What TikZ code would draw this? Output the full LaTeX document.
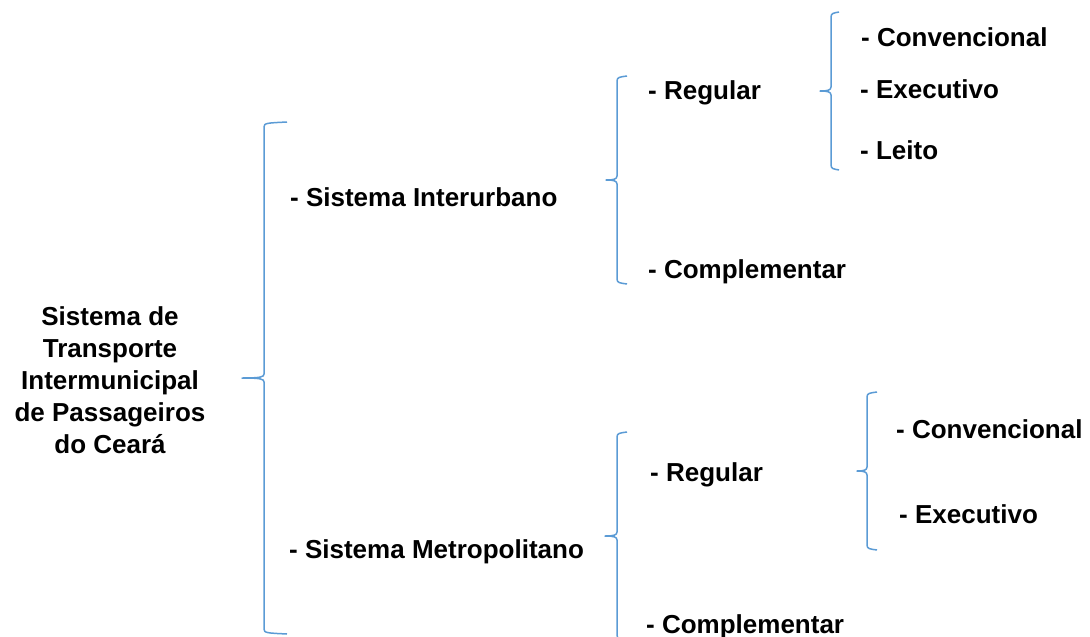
\documentclass[tikz,border=0pt]{standalone}
\usepackage{fontspec}
\setmainfont{Liberation Sans}
\definecolor{chaveazul}{RGB}{91,155,213}
% chave: x do corpo, topo, base, largura da ponta, largura do bico
\newcommand{\chave}[5]{%
  \pgfmathsetmacro\chavem{(#2+#3)/2}%
  \draw[chave] (#1+#4,#2-1) .. controls (#1+3,#2) and (#1,#2) .. (#1,#2+4)
    -- (#1,\chavem-4) .. controls (#1,\chavem-1) and (#1-3,\chavem) .. (#1-#5,\chavem)
    .. controls (#1-3,\chavem) and (#1,\chavem+1) .. (#1,\chavem+4)
    -- (#1,#3-4) .. controls (#1,#3) and (#1+3,#3) .. (#1+#4,#3+1);%
}
\begin{document}
\begin{tikzpicture}[
                    x=1pt,
                    y=-1pt,
                    chave/.style={draw=chaveazul, line width=1.5pt, line join=round},
                    txt/.style={font=\bfseries\fontsize{26}{32}\selectfont, inner sep=0pt, anchor=base west}
                ]
                \useasboundingbox (0,0) rectangle (1090,637);

                \node[txt, anchor=center, align=center] (sist) at (110,380)
                    {Sistema de\\Transporte\\Intermunicipal\\de Passageiros\\do Ceará};

                \node[txt] (inter) at (290,206.5) {- Sistema Interurbano};
                \node[txt] (metro) at (289,558) {- Sistema Metropolitano};

                \node[txt] (reg1) at (648,99.5) {- Regular};
                \node[txt] (comp1) at (648,278.5) {- Complementar};
                \node[txt] (conv1) at (861,46) {- Convencional};
                \node[txt] (exec1) at (860,98.7) {- Executivo};
                \node[txt] (leito) at (860,159.5) {- Leito};

                \node[txt] (reg2) at (650,481) {- Regular};
                \node[txt] (comp2) at (646,633) {- Complementar};
                \node[txt] (conv2) at (896,438.5) {- Convencional};
                \node[txt] (exec2) at (899,523.5) {- Executivo};

                \chave{264}{123}{633}{23}{22}
                \chave{617}{77}{283}{10}{11}
                \chave{831}{13}{169}{8}{11}
                \chave{617}{433}{639}{10}{12}
                \chave{867}{393}{549}{10}{10}
            \end{tikzpicture}
\end{document}
